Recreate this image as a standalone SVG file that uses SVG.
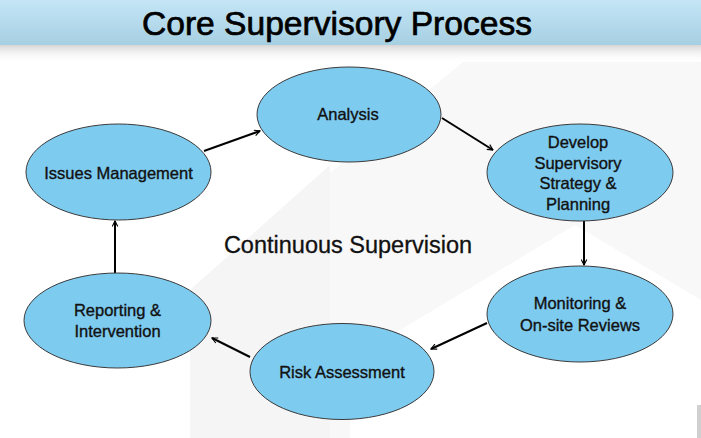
<svg xmlns="http://www.w3.org/2000/svg" width="701" height="438" viewBox="0 0 701 438">
<defs>
<linearGradient id="titleGrad" x1="0" y1="0" x2="0" y2="1">
<stop offset="0" stop-color="#c4e6f6"/>
<stop offset="1" stop-color="#a6cfe2"/>
</linearGradient>
<linearGradient id="shadowGrad" x1="0" y1="0" x2="0" y2="1">
<stop offset="0" stop-color="#d6d6d6"/>
<stop offset="1" stop-color="#ffffff" stop-opacity="0"/>
</linearGradient>
<marker id="arr" viewBox="0 0 10 10" refX="9" refY="5" markerWidth="7" markerHeight="7" markerUnits="userSpaceOnUse" orient="auto">
<path d="M1,1 L9,5 L1,9" fill="none" stroke="#000" stroke-width="1.6"/>
</marker>
<style>
.node ellipse{fill:#7ecbf0;stroke:#3a3a3a;stroke-width:1;}
.node text{font-family:"Liberation Sans",Arial,sans-serif;font-size:16.5px;fill:#111;stroke:#111;stroke-width:0.35;text-anchor:middle;}
.conn line{stroke:#000;stroke-width:2;marker-end:url(#arr);}
</style>
</defs>
<rect x="0" y="0" width="701" height="438" fill="#ffffff"/>
<path d="M463,62 L701,62 L701,300 L575,225 L350,360 L350,438 L190,438 L190,290 Z" fill="#f8f8f8"/>
<path d="M330,165 L330,438 L190,438 L190,290 Z" fill="#f5f5f5"/>
<rect x="0" y="45" width="701" height="18" fill="url(#shadowGrad)"/>
<rect x="0" y="0" width="701" height="45" fill="url(#titleGrad)"/>
<rect x="697" y="405" width="4" height="33" fill="#d0d0d0"/>
<text x="337" y="35" font-family="'Liberation Sans Narrow','Liberation Sans',Arial,sans-serif" font-size="33" text-anchor="middle" fill="#000" stroke="#000" stroke-width="0.7" textLength="390" lengthAdjust="spacingAndGlyphs">Core Supervisory Process</text>
<text x="348" y="253" font-family="'Liberation Sans',Arial,sans-serif" font-size="23.5" text-anchor="middle" fill="#111" stroke="#111" stroke-width="0.3">Continuous Supervision</text>
<g id="conn" class="conn">
<line x1="204" y1="151" x2="260" y2="131"/>
<line x1="442" y1="118" x2="493" y2="150"/>
<line x1="584" y1="221" x2="584" y2="265"/>
<line x1="487" y1="323" x2="431" y2="349"/>
<line x1="250" y1="357" x2="212" y2="338"/>
<line x1="115" y1="273" x2="115" y2="221"/>
</g>
<g id="analysis" class="node">
<ellipse cx="349" cy="114.5" rx="92" ry="47.5"/>
<text x="348" y="120">Analysis</text>
</g>
<g id="develop" class="node">
<ellipse cx="580" cy="172.5" rx="93" ry="48.5"/>
<text x="578" y="148">Develop</text>
<text x="578" y="168.5">Supervisory</text>
<text x="578" y="189">Strategy &amp;</text>
<text x="578" y="209.5">Planning</text>
</g>
<g id="monitoring" class="node">
<ellipse cx="580" cy="314" rx="93" ry="48"/>
<text x="580" y="309">Monitoring &amp;</text>
<text x="580" y="331">On-site Reviews</text>
</g>
<g id="risk" class="node">
<ellipse cx="342" cy="371.5" rx="92" ry="48"/>
<text x="342" y="378">Risk Assessment</text>
</g>
<g id="reporting" class="node">
<ellipse cx="117.5" cy="320.5" rx="93.5" ry="47.5"/>
<text x="117.5" y="316">Reporting &amp;</text>
<text x="117.5" y="337">Intervention</text>
</g>
<g id="issues" class="node">
<ellipse cx="118.5" cy="172" rx="92.5" ry="48"/>
<text x="118.5" y="179">Issues Management</text>
</g>
</svg>
